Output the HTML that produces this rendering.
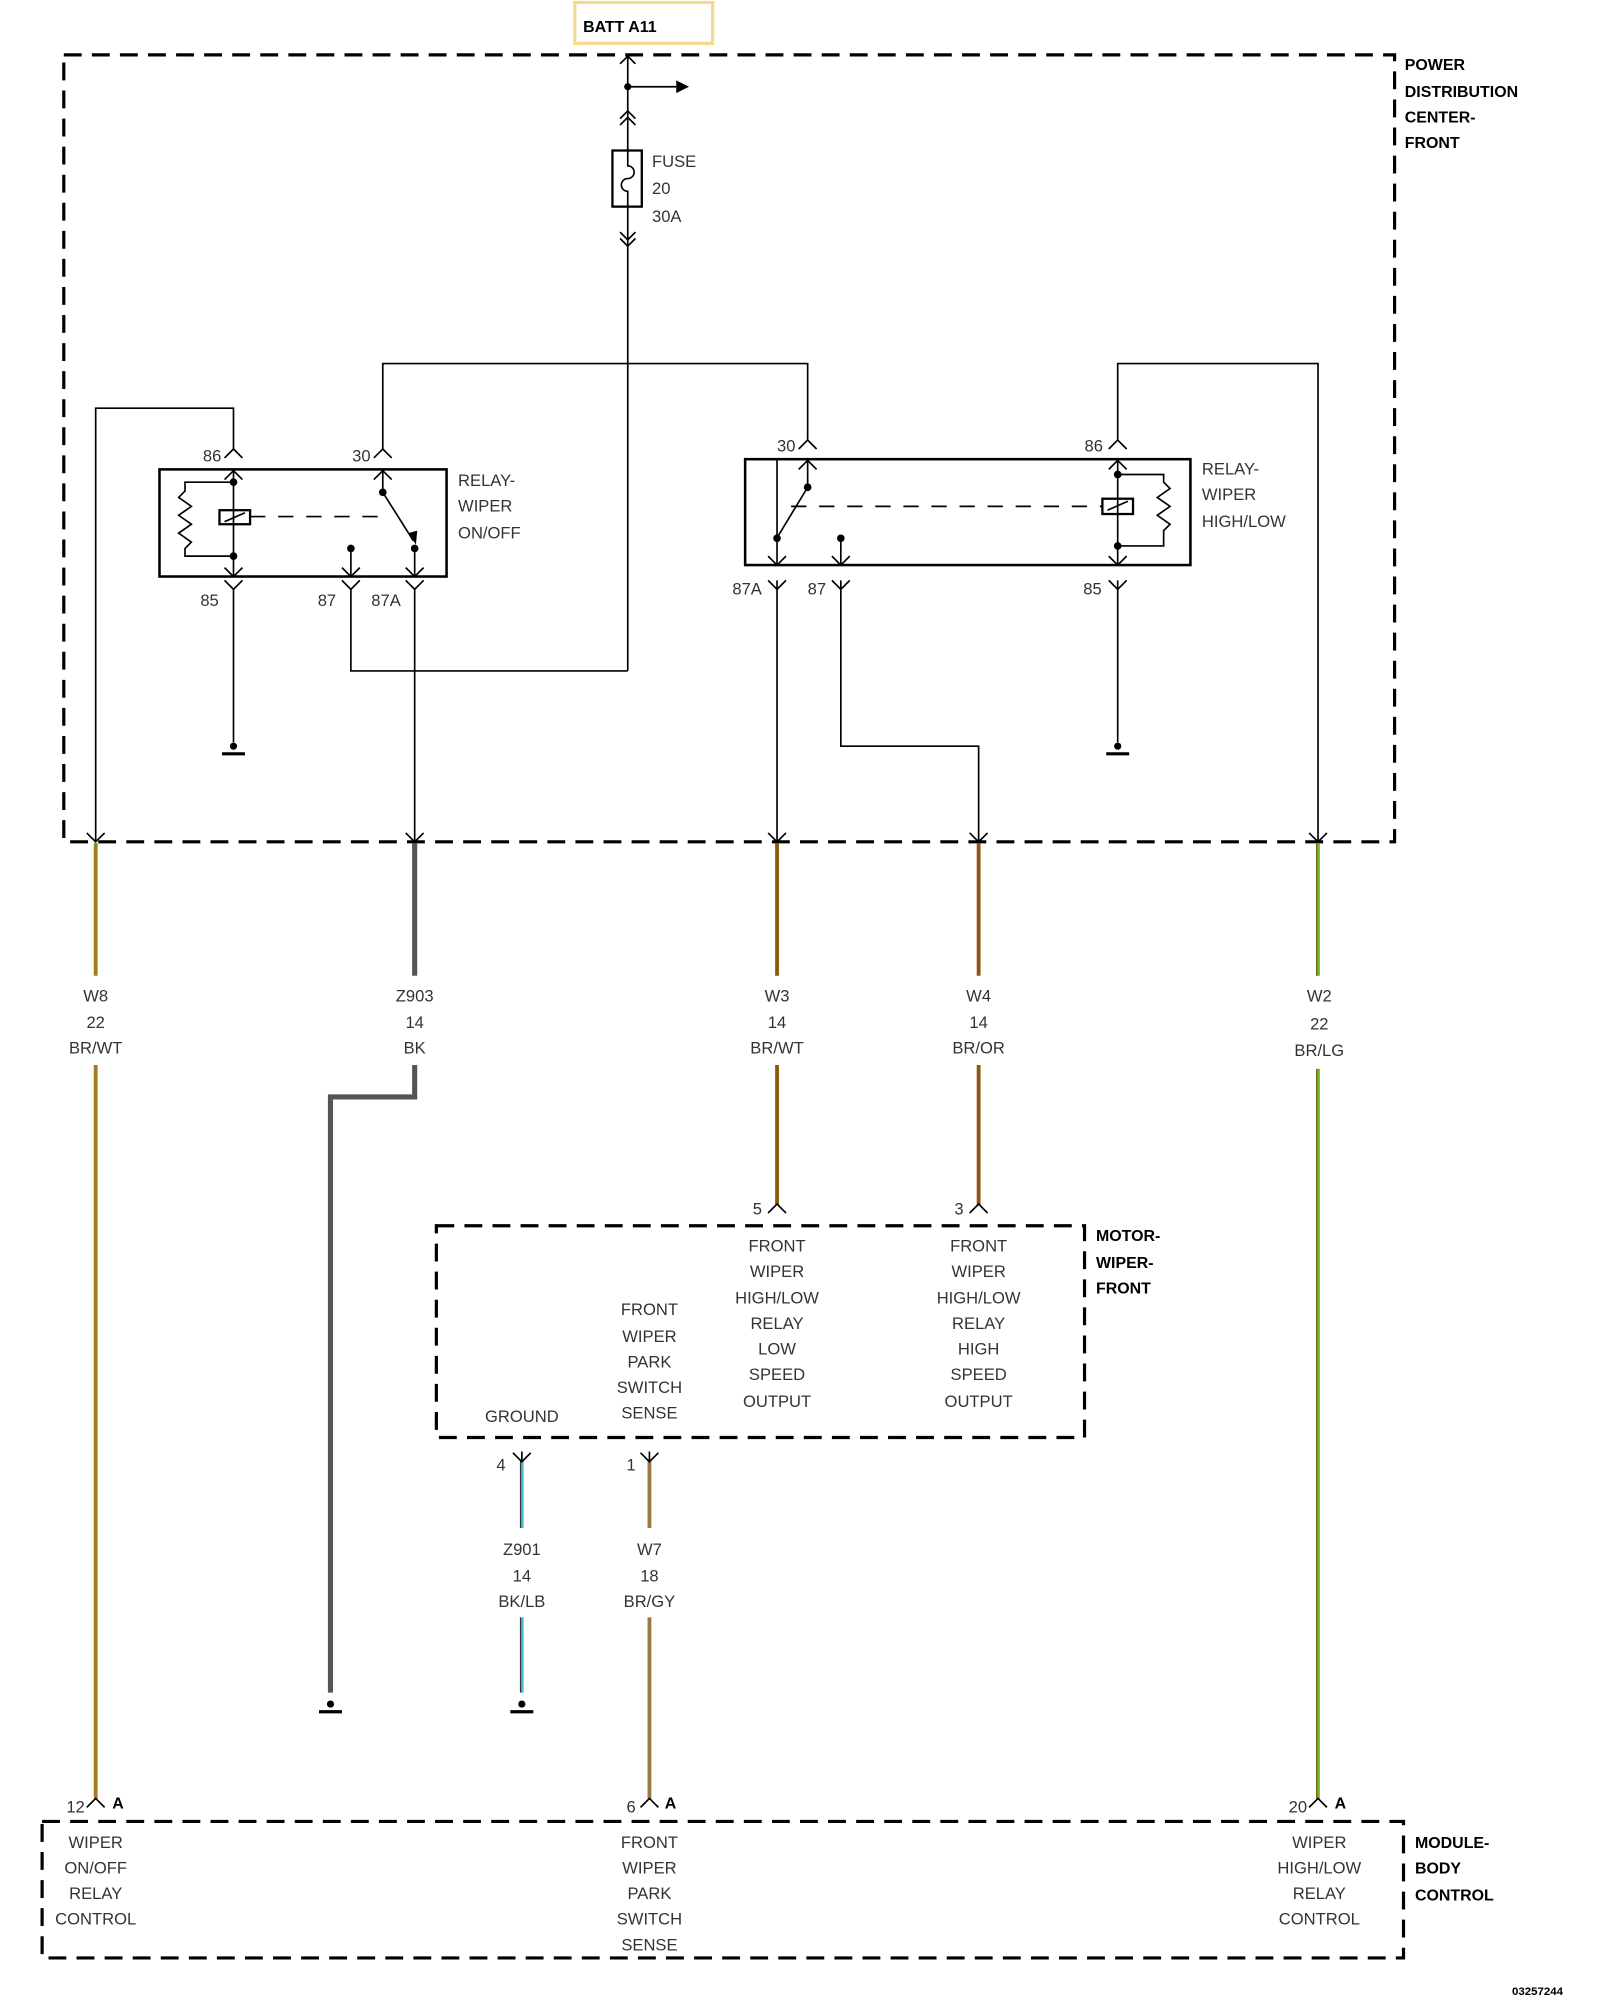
<!DOCTYPE html>
<html><head><style>
html,body{margin:0;padding:0;background:#fff}
svg{display:block}
text{font-family:"Liberation Sans",sans-serif;font-size:13px;fill:#333}
.b{font-weight:bold;fill:#000;font-size:12.5px}
</style></head><body>
<svg width="1600" height="2000" viewBox="0 0 1254 1568" preserveAspectRatio="none" xmlns="http://www.w3.org/2000/svg">
<defs>
<g id="up"><path d="M-7 7 L0 0 L7 7" fill="none" stroke="#000" stroke-width="1.3"/></g>
<g id="dn"><path d="M-7 -7 L0 0 L7 -7" fill="none" stroke="#000" stroke-width="1.3"/></g>
<g id="gnd"><circle cx="0" cy="0" r="2.8" fill="#000"/><line x1="-9" y1="6" x2="9" y2="6" stroke="#000" stroke-width="2.5"/></g>
</defs>
<rect x="450.5" y="2" width="108" height="32" fill="none" stroke="#f7d88c" stroke-width="2.5"/>
<text x="457" y="25" class="b">BATT A11</text>
<!-- PDC box -->
<rect x="50" y="43" width="1043" height="617" fill="none" stroke="#000" stroke-width="2.5" stroke-dasharray="14 8"/>
<text class="b" x="1101" y="55">POWER</text><text class="b" x="1101" y="76">DISTRIBUTION</text><text class="b" x="1101" y="96">CENTER-</text><text class="b" x="1101" y="116">FRONT</text>
<g stroke="#000" stroke-width="1.3" fill="none">
<line x1="492" y1="42" x2="492" y2="118"/>
<path d="M486 50 L492 44 L498 50"/>
<line x1="492" y1="68" x2="530" y2="68"/>
<path d="M486 93 L492 87 L498 93 M486 98 L492 92 L498 98"/>
<rect x="480" y="118" width="23" height="44" stroke-width="1.8"/>
<path d="M492 118 v12 a5 5 0 0 1 0 10 a5 5 0 0 0 0 10 v12"/>
<line x1="492" y1="162" x2="492" y2="526"/>
<path d="M486 182 L492 188 L498 182 M486 187 L492 193 L498 187"/>
<polyline points="492,526 275,526 275,462"/>
<polyline points="300,352 300,285 633,285 633,345"/>
<polyline points="183,352 183,320 75,320 75,660"/>
<polyline points="876,345 876,285 1033,285 1033,660"/>
<line x1="183" y1="462" x2="183" y2="582"/>
<line x1="325" y1="462" x2="325" y2="660"/>
<line x1="876" y1="455" x2="876" y2="582"/>
<line x1="609" y1="455" x2="609" y2="660"/>
<polyline points="659,455 659,585 767,585 767,660"/>
<!-- left relay -->
<rect x="125" y="368" width="225" height="84" stroke-width="2"/>
<line x1="183" y1="368" x2="183" y2="452"/>
<rect x="172" y="400" width="24" height="11" stroke-width="1.8"/>
<line x1="176" y1="409" x2="192" y2="402"/>
<polyline points="183,378 145,378 145,385 140,390 150,397 140,404 150,411 140,418 150,425 145,430 145,436 183,436"/>
<line x1="196" y1="405" x2="300" y2="405" stroke-dasharray="12 10"/>
<line x1="300" y1="368" x2="300" y2="386"/>
<line x1="300" y1="386" x2="324" y2="424"/>
<line x1="275" y1="430" x2="275" y2="452"/>
<line x1="325" y1="430" x2="325" y2="452"/>
<!-- right relay -->
<rect x="584" y="360" width="349" height="83" stroke-width="2"/>
<line x1="876" y1="360" x2="876" y2="443"/>
<rect x="864" y="391" width="24" height="12" stroke-width="1.8"/>
<line x1="868" y1="400" x2="884" y2="393"/>
<polyline points="876,372 912,372 912,378 917,383 907,390 917,397 907,404 917,411 912,416 912,428 876,428"/>
<line x1="620" y1="397" x2="864" y2="397" stroke-dasharray="12 10"/>
<line x1="633" y1="360" x2="633" y2="382"/>
<line x1="633" y1="382" x2="610" y2="420"/>
<line x1="609" y1="360" x2="609" y2="443"/>
<line x1="659" y1="422" x2="659" y2="443"/>
</g>
<g fill="#000">
<path d="M530 63 L540 68 L530 73 Z"/>
<circle cx="492" cy="68" r="2.8"/>
<circle cx="183" cy="378" r="3"/><circle cx="183" cy="436" r="3"/>
<circle cx="300" cy="386" r="3"/><circle cx="275" cy="430" r="3"/><circle cx="325" cy="430" r="3"/>
<path d="M320 418 L326 427 L327 416 Z"/>
<circle cx="876" cy="372" r="3"/><circle cx="876" cy="428" r="3"/>
<circle cx="633" cy="382" r="3"/><circle cx="609" cy="422" r="3"/><circle cx="659" cy="422" r="3"/>
</g>
<!-- connectors top PDC relays -->
<use href="#up" x="183" y="352"/><use href="#up" x="300" y="352"/>
<use href="#up" x="633" y="345"/><use href="#up" x="876" y="345"/>
<use href="#up" x="183" y="369"/><use href="#up" x="300" y="369"/>
<use href="#up" x="633" y="361"/><use href="#up" x="876" y="361"/>
<use href="#dn" x="183" y="452"/><use href="#dn" x="275" y="452"/><use href="#dn" x="325" y="452"/>
<use href="#dn" x="609" y="443"/><use href="#dn" x="659" y="443"/><use href="#dn" x="876" y="443"/>
<g transform="translate(0,-7)"><use href="#dn" x="183" y="469"/><use href="#dn" x="275" y="469"/><use href="#dn" x="325" y="469"/>
<use href="#dn" x="609" y="469"/><use href="#dn" x="659" y="469"/><use href="#dn" x="876" y="469"/></g>
<use href="#dn" x="75" y="660"/><use href="#dn" x="325" y="660"/><use href="#dn" x="609" y="660"/><use href="#dn" x="767" y="660"/><use href="#dn" x="1033" y="660"/>
<use href="#gnd" x="183" y="585"/><use href="#gnd" x="876" y="585"/>
<text x="159" y="362">86</text><text x="276" y="362">30</text>
<text x="609" y="354">30</text><text x="850" y="354">86</text>
<text x="157" y="475">85</text><text x="249" y="475">87</text><text x="291" y="475">87A</text>
<text x="574" y="466">87A</text><text x="633" y="466">87</text><text x="849" y="466">85</text>
<text x="359" y="381">RELAY-</text><text x="359" y="401">WIPER</text><text x="359" y="422">ON/OFF</text>
<text x="942" y="372">RELAY-</text><text x="942" y="392">WIPER</text><text x="942" y="413">HIGH/LOW</text>
<text x="511" y="131">FUSE</text><text x="511" y="152">20</text><text x="511" y="174">30A</text>
<!-- wires -->
<g fill="none" stroke-width="3">
<path d="M75 661 V765 M75 835 V1410" stroke="#a07d1e"/>
<path d="M325 661 V765 M325 835 V860 H259 V1327" stroke="#555" stroke-width="4"/>
<path d="M609 661 V765 M609 835 V945" stroke="#8a5a08"/>
<path d="M767 661 V765 M767 835 V945" stroke="#8f5410"/>
<path d="M1033 661 V765 M1033 838 V1410" stroke="#6fbf2a"/>
<path d="M409 1145 V1198 M409 1268 V1327" stroke="#4cc6d8"/>
<path d="M509 1145 V1198 M509 1268 V1410" stroke="#9a7a40"/>
</g>
<g fill="none" stroke-width="1">
<path d="M1032 661 V765 M1032 838 V1410" stroke="#7a5a10"/>
<path d="M408 1145 V1198 M408 1268 V1327" stroke="#333"/>
</g>
<g text-anchor="middle">
<text x="75" y="785">W8</text><text x="75" y="806">22</text><text x="75" y="826">BR/WT</text>
<text x="325" y="785">Z903</text><text x="325" y="806">14</text><text x="325" y="826">BK</text>
<text x="609" y="785">W3</text><text x="609" y="806">14</text><text x="609" y="826">BR/WT</text>
<text x="767" y="785">W4</text><text x="767" y="806">14</text><text x="767" y="826">BR/OR</text>
<text x="1034" y="785">W2</text><text x="1034" y="807">22</text><text x="1034" y="828">BR/LG</text>
<text x="409" y="1219">Z901</text><text x="409" y="1240">14</text><text x="409" y="1260">BK/LB</text>
<text x="509" y="1219">W7</text><text x="509" y="1240">18</text><text x="509" y="1260">BR/GY</text>
</g>
<use href="#gnd" x="259" y="1336"/><use href="#gnd" x="409" y="1336"/>
<!-- motor -->
<rect x="342" y="961" width="508" height="166" fill="none" stroke="#000" stroke-width="2.5" stroke-dasharray="14 8"/>
<text class="b" x="859" y="973">MOTOR-</text><text class="b" x="859" y="994">WIPER-</text><text class="b" x="859" y="1014">FRONT</text>
<use href="#up" x="609" y="944"/><use href="#up" x="767" y="944"/>
<text x="590" y="952">5</text><text x="748" y="952">3</text>
<g stroke="#000" stroke-width="1.3"><line x1="409" y1="1138" x2="409" y2="1146"/><line x1="509" y1="1138" x2="509" y2="1146"/></g>
<use href="#dn" x="409" y="1146"/><use href="#dn" x="509" y="1146"/>
<text x="389" y="1153">4</text><text x="491" y="1153">1</text>
<g text-anchor="middle">
<text x="609" y="981">FRONT</text><text x="609" y="1001">WIPER</text><text x="609" y="1022">HIGH/LOW</text><text x="609" y="1042">RELAY</text><text x="609" y="1062">LOW</text><text x="609" y="1082">SPEED</text><text x="609" y="1103">OUTPUT</text>
<text x="767" y="981">FRONT</text><text x="767" y="1001">WIPER</text><text x="767" y="1022">HIGH/LOW</text><text x="767" y="1042">RELAY</text><text x="767" y="1062">HIGH</text><text x="767" y="1082">SPEED</text><text x="767" y="1103">OUTPUT</text>
<text x="509" y="1031">FRONT</text><text x="509" y="1052">WIPER</text><text x="509" y="1072">PARK</text><text x="509" y="1092">SWITCH</text><text x="509" y="1112">SENSE</text>
<text x="409" y="1115">GROUND</text>
</g>
<!-- BCM -->
<rect x="33" y="1428" width="1067" height="107" fill="none" stroke="#000" stroke-width="2.5" stroke-dasharray="14 8"/>
<text class="b" x="1109" y="1449">MODULE-</text><text class="b" x="1109" y="1469">BODY</text><text class="b" x="1109" y="1490">CONTROL</text>
<use href="#up" x="75" y="1410"/><use href="#up" x="509" y="1410"/><use href="#up" x="1033" y="1410"/>
<text x="52" y="1421">12</text><text class="b" x="88" y="1418">A</text>
<text x="491" y="1421">6</text><text class="b" x="521" y="1418">A</text>
<text x="1010" y="1421">20</text><text class="b" x="1046" y="1418">A</text>
<g text-anchor="middle">
<text x="75" y="1449">WIPER</text><text x="75" y="1469">ON/OFF</text><text x="75" y="1489">RELAY</text><text x="75" y="1509">CONTROL</text>
<text x="509" y="1449">FRONT</text><text x="509" y="1469">WIPER</text><text x="509" y="1489">PARK</text><text x="509" y="1509">SWITCH</text><text x="509" y="1529">SENSE</text>
<text x="1034" y="1449">WIPER</text><text x="1034" y="1469">HIGH/LOW</text><text x="1034" y="1489">RELAY</text><text x="1034" y="1509">CONTROL</text>
</g>
<text class="b" x="1185" y="1564" style="font-size:9px">03257244</text>
</svg>
</body></html>
